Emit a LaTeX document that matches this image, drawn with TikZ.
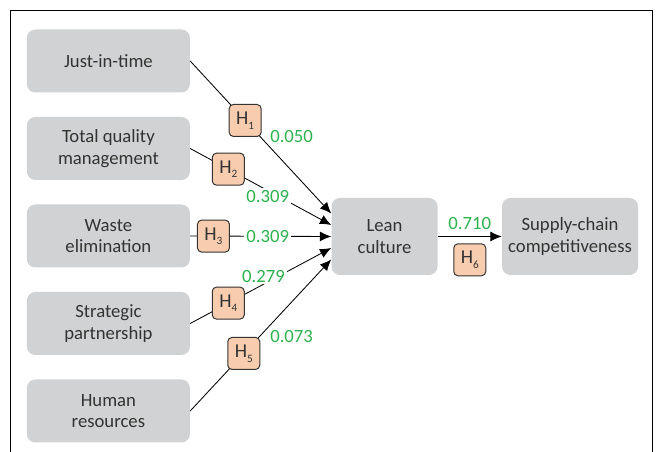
\documentclass[tikz,border=0pt]{standalone}
\usepackage{fontspec}
\setmainfont{Carlito}
\usetikzlibrary{positioning, arrows.meta}

\definecolor{boxgray}{HTML}{D1D2D3}
\definecolor{hypfill}{HTML}{F8CCAE}
\definecolor{pathgreen}{HTML}{2DB24E}
\definecolor{textgray}{HTML}{333333}

\newcommand{\hsub}[1]{H\raisebox{-0.5ex}{\fontsize{8}{8}\selectfont #1}}

\begin{document}
\begin{tikzpicture}[
    factor/.style={rectangle, rounded corners=6pt, fill=boxgray, text=textgray,
                  minimum width=4.075cm, minimum height=1.575cm, align=center,
                  font=\fontsize{13.3}{15.5}\selectfont},
    outcome/.style={factor, minimum width=2.65cm, minimum height=1.925cm},
    hyp/.style={rectangle, rounded corners=3pt, draw=textgray, line width=0.7pt,
                fill=hypfill, text=textgray, minimum size=0.8cm, inner sep=0pt,
                font=\fontsize{14}{15.5}\selectfont},
    coef/.style={text=pathgreen, inner sep=1.5pt, font=\fontsize{13.3}{15.5}\selectfont},
    arrow/.style={-{Latex[length=8pt, width=7pt]}, line width=0.6pt}
]
    \useasboundingbox (0, 0) rectangle (16.525, 11.3);

    % === Frame ===
    \draw[line width=0.7pt] (0.25, 0) -- (0.25, 11.025) -- (16.3, 11.025) -- (16.3, 0);

    % === Lean practices ===
    \node[factor] (jit) at (2.71, 9.775) {Just-in-time};
    \node[factor] (tqm) at (2.71, 7.5875) {Total quality\\management};
    \node[factor] (waste) at (2.71, 5.4) {Waste\\elimination};
    \node[factor] (partner) at (2.71, 3.2125) {Strategic\\partnership};
    \node[factor] (human) at (2.71, 1.025) {Human\\resources};

    % === Outcomes ===
    \node[outcome] (lean) at (9.6125, 5.3875) {Lean\\culture};
    \node[outcome, minimum width=3.4cm] (supply) at (14.25, 5.3875) {Supply-chain\\competitiveness};

    % === Paths ===
    \draw[arrow] (jit.east) -- node[coef, pos=0.55, anchor=south west] (c1) {0.050}
        node[hyp, pos=0.39] (h1) {\hsub{1}} ([yshift=0.575cm]lean.west);
    \draw[arrow] (tqm.east) -- node[coef, fill=white, pos=0.55, yshift=-0.15cm] (c2) {0.309}
        node[hyp, pos=0.27] (h2) {\hsub{2}} ([yshift=0.2875cm]lean.west);
    \draw[arrow] (waste.east) -- node[coef, fill=white, pos=0.55] (c3) {0.309}
        node[hyp, pos=0.165] (h3) {\hsub{3}} (lean.west);
    \draw[arrow] (partner.east) -- node[coef, fill=white, pos=0.52, yshift=0.2cm] (c4) {0.279}
        node[hyp, pos=0.27] (h4) {\hsub{4}} ([yshift=-0.2875cm]lean.west);
    \draw[arrow] (human.east) -- node[coef, pos=0.55, anchor=north west] (c5) {0.073}
        node[hyp, pos=0.38] (h5) {\hsub{5}} ([yshift=-0.575cm]lean.west);
    \draw[arrow] (lean) -- node[coef, above=0.12cm] (c6) {0.710}
        node[hyp, below=0.17cm] (h6) {\hsub{6}} (supply);

\end{tikzpicture}
\end{document}
